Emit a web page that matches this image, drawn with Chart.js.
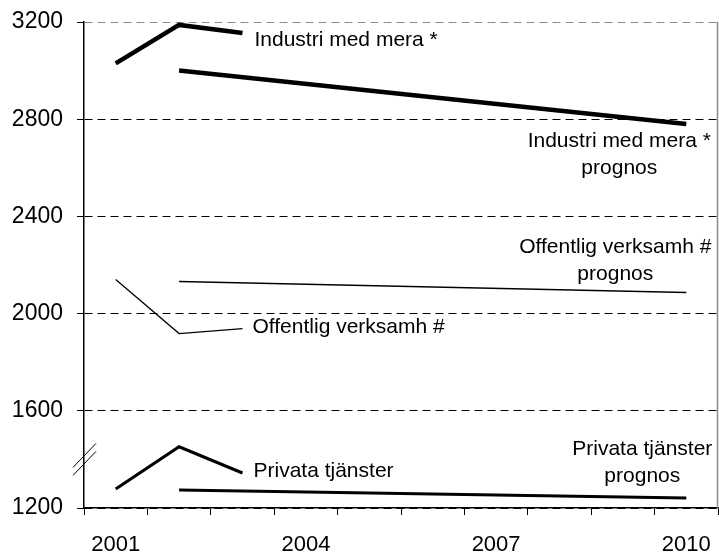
<!DOCTYPE html>
<html>
<head>
<meta charset="utf-8">
<script src="https://cdn.jsdelivr.net/npm/chart.js@4.4.1/dist/chart.umd.min.js"></script>
<style>
  html, body { margin: 0; padding: 0; background: #fff; }
  #wrap { width: 719px; height: 553px; }
</style>
</head>
<body>
<div id="wrap"><canvas id="grafico"></canvas></div>
<script>
// Años del eje x
const anios = ['2001', '2002', '2003', '2004', '2005', '2006', '2007', '2008', '2009', '2010'];

// Series
const industri = [3030, 3188, 3155, null, null, null, null, null, null, null];
const industriPrognos = [null, 3000, null, null, null, null, null, null, null, 2780];
const offentlig = [2140, 1918, 1938, null, null, null, null, null, null, null];
const offentligPrognos = [null, 2132, null, null, null, null, null, null, null, 2087];
const privata = [1278, 1452, 1344, null, null, null, null, null, null, null];
const privataPrognos = [null, 1274, null, null, null, null, null, null, null, 1241];

const yMin = 1200;
const yMax = 3200;
const yPaso = 400;

// Etiquetas de texto dentro del gráfico
const etiquetas = [
    { lineas: ['Industri med mera *'], cat: 2, valor: 3126, dx: 12, align: 'left' },
    { lineas: ['Offentlig verksamh #'], cat: 2, valor: 1945, dx: 10, align: 'left' },
    { lineas: ['Privata tjänster'], cat: 2, valor: 1353, dx: 11, align: 'left' },
    { lineas: ['Industri med mera *', 'prognos'], cat: 9, valor: 2710, dx: -67, align: 'center' },
    { lineas: ['Offentlig verksamh #', 'prognos'], cat: 9, valor: 2272, dx: -71, align: 'center' },
    { lineas: ['Privata tjänster', 'prognos'], cat: 9, valor: 1440, dx: -44, align: 'center' }
];

const fuente = '"Liberation Sans", Arial, sans-serif';

const pluginExtras = {
    id: 'extras',
    afterDatasetsDraw(chart) {
        const { ctx, chartArea, scales: { x, y } } = chart;
        ctx.save();

        // borde derecho gris
        ctx.strokeStyle = '#8c8c8c';
        ctx.lineWidth = 1.5;
        ctx.beginPath();
        ctx.moveTo(chartArea.right - 0.5, chartArea.top);
        ctx.lineTo(chartArea.right - 0.5, chartArea.bottom);
        ctx.stroke();

        // marca de corte en el eje y
        const yc = y.getPixelForValue(1400);
        const xl = chartArea.left;
        ctx.strokeStyle = '#000';
        ctx.lineWidth = 1;
        [-4, 4].forEach(off => {
            ctx.beginPath();
            ctx.moveTo(xl - 11, yc + off + 12);
            ctx.lineTo(xl + 12, yc + off - 12);
            ctx.stroke();
        });

        // textos
        ctx.fillStyle = '#000';
        ctx.font = '21px ' + fuente;
        ctx.textBaseline = 'middle';
        etiquetas.forEach(et => {
            const px = x.getPixelForValue(et.cat) + et.dx;
            const py = y.getPixelForValue(et.valor);
            ctx.textAlign = et.align;
            et.lineas.forEach((linea, i) => {
                ctx.fillText(linea, px, py + i * 27);
            });
        });
        ctx.restore();
    }
};

function serie(data, ancho) {
    return {
        data: data,
        borderColor: '#000',
        borderWidth: ancho,
        pointRadius: 0,
        tension: 0,
        spanGaps: true,
        borderCapStyle: 'butt',
        fill: false
    };
}

new Chart(document.getElementById('grafico'), {
    type: 'line',
    data: {
        labels: anios,
        datasets: [
            serie(industri, 4.5),
            serie(industriPrognos, 4.5),
            serie(offentlig, 1.3),
            serie(offentligPrognos, 1.5),
            serie(privata, 3),
            serie(privataPrognos, 3)
        ]
    },
    options: {
        responsive: true,
        maintainAspectRatio: false,
        animation: false,
        layout: { padding: { top: 22, right: 1, left: 0, bottom: 0 } },
        plugins: {
            legend: { display: false },
            tooltip: { enabled: false },
            title: { display: false }
        },
        scales: {
            x: {
                offset: true,
                grid: {
                    offset: true,
                    drawOnChartArea: false,
                    drawTicks: true,
                    tickLength: 7,
                    color: '#000',
                    tickColor: '#000'
                },
                border: { color: '#000', width: 1.5 },
                ticks: {
                    autoSkip: false,
                    maxRotation: 0,
                    padding: 17,
                    color: '#000',
                    font: { family: fuente, size: 22 },
                    callback: function (value, index) {
                        return index % 3 === 0 ? anios[index] : '';
                    }
                },
                afterFit: function (scale) {
                    scale.height = 45;
                    scale.paddingLeft = 0;
                    scale.paddingRight = 0;
                }
            },
            y: {
                min: yMin,
                max: yMax,
                ticks: {
                    stepSize: yPaso,
                    padding: 14,
                    color: '#000',
                    font: { family: fuente, size: 23 },
                    callback: function (value) { return String(value); }
                },
                grid: {
                    color: function (c) { return c.tick && c.tick.value === yMax ? '#8c8c8c' : '#000'; },
                    lineWidth: 1,
                    tickLength: 7,
                    tickColor: '#000',
                    tickBorderDash: []
                },
                border: { color: '#000', width: 1.5, dash: [8, 5] },
                afterFit: function (scale) {
                    scale.width = 84;
                    scale.paddingTop = 0;
                    scale.paddingBottom = 0;
                }
            }
        }
    },
    plugins: [pluginExtras]
});
</script>
</body>
</html>
